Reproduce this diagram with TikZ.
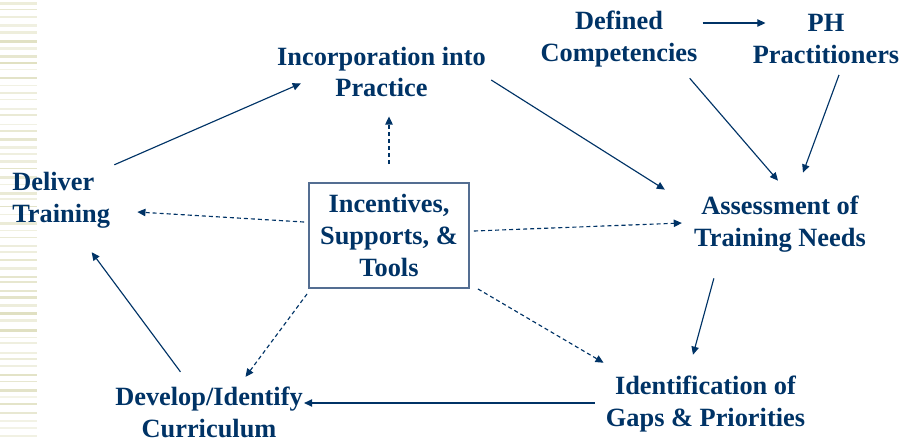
\documentclass[tikz,border=0pt]{standalone}
\usepackage{fontspec}
\setmainfont{Liberation Serif}
\usetikzlibrary{arrows.meta}

\definecolor{navy}{RGB}{0,51,102}
\definecolor{hubline}{RGB}{84,110,146}
\definecolor{stripe}{RGB}{210,210,165}

\begin{document}
\begin{tikzpicture}[
    stage/.style={font=\bfseries\fontsize{15}{18}\selectfont, text=navy,
        align=center, inner sep=0pt},
    hub/.style={stage, draw=hubline, line width=1.1pt,
        minimum width=3.2cm, minimum height=2.1cm},
    flow/.style={draw=navy, line width=0.65pt,
        -{Triangle[length=4.6pt, width=4.2pt]}},
    link/.style={flow, dash pattern=on 2.3pt off 1.7pt}
]
    \path[use as bounding box] (0,0) rectangle (18.08,8.82);

    % striped margin on the left
    \pgfmathsetseed{11}
    \foreach \i in {0,...,58} {
        \pgfmathsetmacro{\ys}{8.82 - \i*0.152 - 0.05*rnd}
        \pgfmathsetmacro{\hs}{0.02 + 0.045*rnd}
        \pgfmathsetmacro{\ks}{25 + 45*rnd}
        \fill[stripe!\ks] (0,\ys) rectangle (0.74,\ys-\hs);
    }

    % stages of the cycle
    \node[stage] (incorp) at (7.63,7.38) {Incorporation into\\Practice};
    \node[stage] (defined) at (12.38,8.04) {Defined\\Competencies};
    \node[stage] (ph) at (16.52,8.04) {PH\\Practitioners};
    \node[stage, align=left, anchor=west] (deliver) at (0.24,4.82)
        {Deliver\\Training};
    \node[hub] (tools) at (7.78,4.11) {Incentives,\\Supports, \&\\Tools};
    \node[stage] (assess) at (15.60,4.34) {Assessment of\\Training Needs};
    \node[stage] (gaps) at (14.11,0.74)
        {Identification of\\Gaps \& Priorities};
    \node[stage] (develop) at (4.18,0.57) {Develop/Identify\\Curriculum};

    % main cycle
    \draw[flow] ([shift={(0.08,0.14)}]deliver.north east)
        -- ([shift={(0.48,0.28)}]incorp.south west);
    \draw[flow] ([shift={(0.10,-0.16)}]incorp.east)
        -- ([shift={(-0.58,0.12)}]assess.north west);
    \draw[flow] ([shift={(-0.16,-0.22)}]defined.south east)
        -- ([shift={(-0.04,0.30)}]assess.north);
    \draw[flow] ([shift={(0.26,-0.22)}]ph.south)
        -- ([shift={(0.46,0.46)}]assess.north);
    \draw[flow] ([shift={(0.10,0.32)}]defined.east)
        -- ([shift={(0.26,0.32)}]ph.west);
    \draw[flow] ([shift={(0.40,-0.52)}]assess.south west)
        -- ([shift={(-0.25,0.42)}]gaps.north);
    \draw[flow] ([shift={(-0.22,0.02)}]gaps.west)
        -- ([shift={(0.02,0.02)}]gaps.west -| develop.east);
    \draw[flow] ([shift={(-0.57,0.30)}]develop.north)
        -- ([shift={(0.61,-0.48)}]deliver.south);

    % supports feeding each stage
    \draw[link] ([yshift=0.36cm]tools.north)
        -- ([yshift=-0.38cm]tools.north |- incorp.south);
    \draw[link] ([shift={(-0.08,0.27)}]tools.west)
        -- ([shift={(0.54,-0.24)}]deliver.east);
    \draw[link] ([shift={(0.08,0.09)}]tools.east)
        -- ([shift={(-0.24,0.02)}]assess.west);
    \draw[link] ([shift={(-0.02,-0.10)}]tools.south west)
        -- ([shift={(0.73,0.20)}]develop.north);
    \draw[link] ([shift={(0.16,0)}]tools.south east)
        -- ([shift={(-0.04,0.26)}]gaps.north west);
\end{tikzpicture}
\end{document}
